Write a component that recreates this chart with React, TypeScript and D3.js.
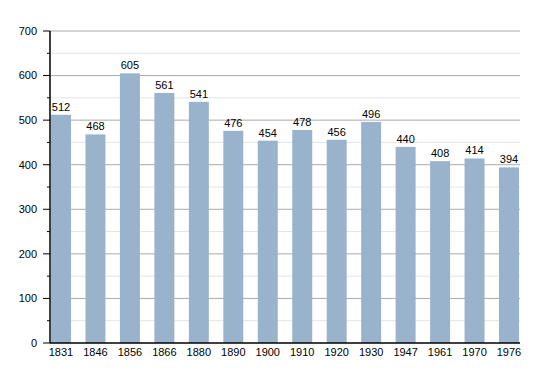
import { FC } from 'react';
import * as d3 from 'd3';

const years = ['1831', '1846', '1856', '1866', '1880', '1890', '1900', '1910', '1920', '1930', '1947', '1961', '1970', '1976'];
const population = [512, 468, 605, 561, 541, 476, 454, 478, 456, 496, 440, 408, 414, 394];
const majorTicks = [0, 100, 200, 300, 400, 500, 600, 700];
const minorTicks = [50, 150, 250, 350, 450, 550, 650];

const App: FC = () => {
  const width = 550;
  const height = 373;
  const left = 50;
  const right = 520;
  const top = 31;
  const bottom = 343;

  const x = d3.scaleBand<string>().domain(years).range([51, 519]).paddingInner(0.42).paddingOuter(0);
  const y = d3.scaleLinear().domain([0, 700]).range([bottom, top]);

  const font = 'Liberation Sans, Arial, sans-serif';

  return (
    <svg width={width} height={height} style={{ position: 'absolute', left: 0, top: 0, background: '#fff' }}>
      {/* minor grid */}
      {minorTicks.map((t) => (
        <g key={'m' + t}>
          <line x1={left} x2={right} y1={y(t)} y2={y(t)} stroke="#e4e4e4" strokeWidth={1} />
          <line x1={left - 3} x2={left} y1={y(t)} y2={y(t)} stroke="#000" strokeWidth={1} />
        </g>
      ))}
      {/* major grid */}
      {majorTicks.map((t) => (
        <g key={'M' + t}>
          {t > 0 && <line x1={left} x2={right} y1={y(t)} y2={y(t)} stroke="#aaaaaa" strokeWidth={1} />}
          <line x1={left - 7} x2={left} y1={y(t)} y2={y(t)} stroke="#000" strokeWidth={1} />
          <text x={37} y={y(t)} dy="0.35em" textAnchor="end" fontSize={11} fontFamily={font} fill="#000">
            {t}
          </text>
        </g>
      ))}
      {/* bars */}
      {years.map((yr, i) => (
        <g key={yr}>
          <rect x={x(yr)} y={y(population[i])} width={x.bandwidth()} height={bottom - y(population[i])} fill="#9ab3cc" />
          <text x={(x(yr) ?? 0) + x.bandwidth() / 2} y={y(population[i]) - 4} textAnchor="middle" fontSize={11} fontFamily={font} fill="#000">
            {population[i]}
          </text>
          <text x={(x(yr) ?? 0) + x.bandwidth() / 2} y={356} textAnchor="middle" fontSize={11} fontFamily={font} fill="#000">
            {yr}
          </text>
        </g>
      ))}
      {/* axes */}
      <line x1={left} x2={left} y1={top} y2={bottom} stroke="#000" strokeWidth={1.5} />
      <line x1={left} x2={right} y1={bottom} y2={bottom} stroke="#000" strokeWidth={1.5} />
    </svg>
  );
};

export default App;
